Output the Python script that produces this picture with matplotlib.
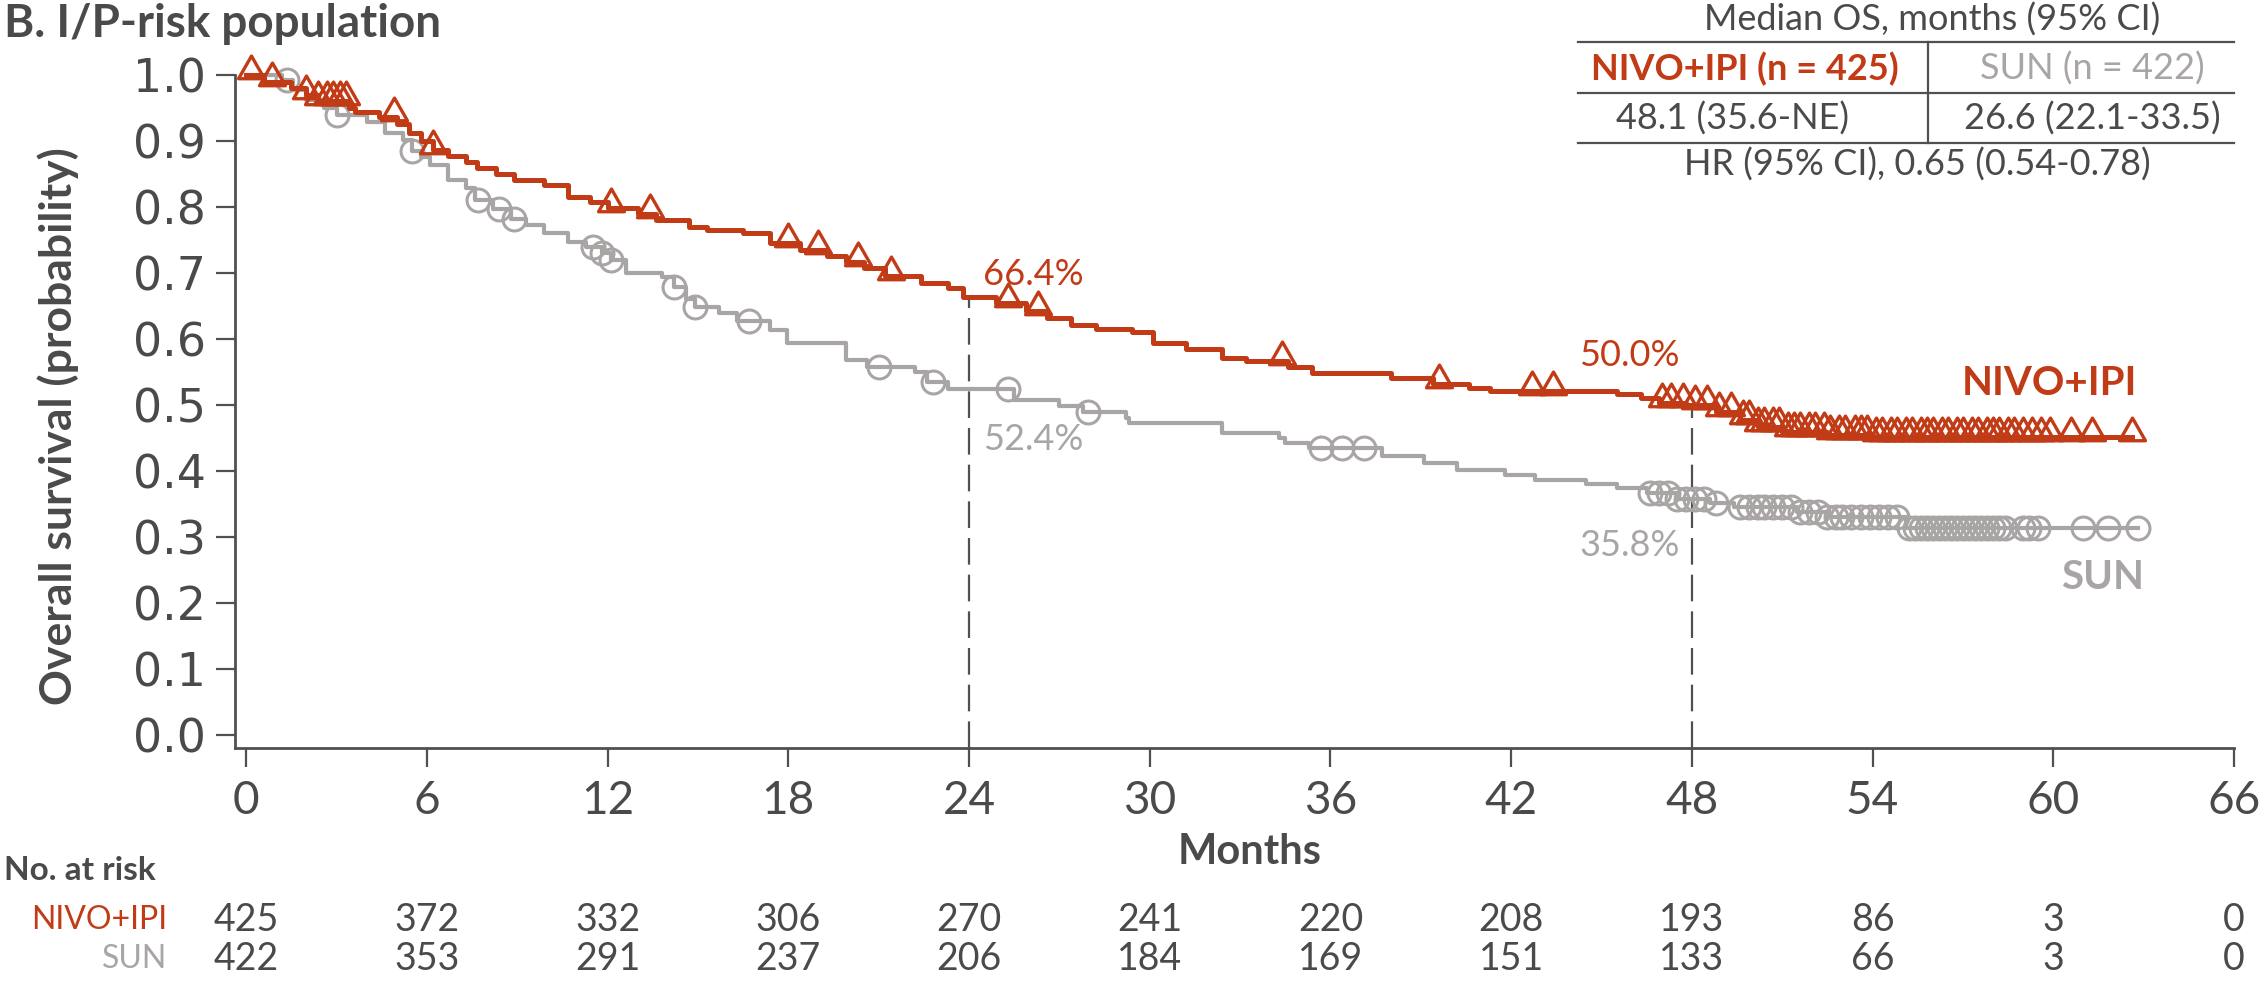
import numpy as np
import matplotlib
matplotlib.use("Agg")
import matplotlib.pyplot as plt
from matplotlib.path import Path
from matplotlib.transforms import blended_transform_factory

# ---------------- data ----------------
nivo_t = [0, 0.6, 1.5, 2.0, 2.4, 3.4, 3.6, 4.4, 5.0, 5.4, 5.8, 6.2, 6.7, 7.3, 7.65, 8.3, 8.9,
          9.9, 10.7, 11.4, 12.0, 13.0, 13.6, 14.7, 15.3, 16.5, 17.4, 18.4, 19.3, 19.9, 20.5,
          21.2, 22.4, 23.3, 23.8, 24.9, 25.9, 26.6, 27.4, 28.2, 29.4, 30.1, 31.2, 32.4, 33.2,
          34.6, 35.4, 38.0, 39.4, 40.6, 41.3, 45.5, 46.3, 46.9, 47.8, 48.8, 49.6, 50.2, 51.0,
          52.5, 54.0]
nivo_s = [1.0, 0.99, 0.98, 0.97, 0.96, 0.95, 0.944, 0.936, 0.925, 0.912, 0.900, 0.886, 0.877,
          0.868, 0.859, 0.850, 0.841, 0.833, 0.815, 0.808, 0.798, 0.790, 0.780, 0.770, 0.765,
          0.760, 0.745, 0.735, 0.725, 0.716, 0.707, 0.696, 0.685, 0.677, 0.664, 0.655, 0.643,
          0.632, 0.621, 0.615, 0.611, 0.594, 0.585, 0.571, 0.566, 0.558, 0.548, 0.541, 0.532,
          0.525, 0.521, 0.516, 0.510, 0.503, 0.500, 0.490, 0.478, 0.467, 0.459, 0.455, 0.452]
nivo_end = 62.6
nivo_cens = [0.15, 0.85, 2.0, 2.4, 2.7, 2.9, 3.1, 3.3, 4.9, 6.2, 12.1, 13.4, 18.0, 19.0, 20.3,
             21.4, 25.3, 26.3, 34.4, 39.6, 42.7, 43.4, 47.0, 47.3, 47.7, 48.1, 48.5, 48.9, 49.3,
             49.7, 49.9, 50.2, 50.4, 50.7, 50.9, 51.2, 51.4, 51.6, 51.9, 52.1, 52.4, 52.6, 52.9,
             53.1, 53.4, 53.6, 53.8, 54.1, 54.3, 54.6, 54.8, 55.1, 55.3, 55.6, 55.8, 56.0, 56.3,
             56.5, 56.8, 57.0, 57.3, 57.5, 57.8, 58.0, 58.2, 58.5, 58.7, 59.0, 59.3, 59.6, 59.9,
             60.6, 61.3, 62.6]

sun_t = [0, 1.2, 1.55, 2.0, 2.6, 3.0, 4.0, 4.6, 5.2, 5.5, 5.8, 6.1, 6.7, 7.3, 7.6, 8.2, 8.8,
         9.3, 9.9, 10.7, 11.3, 11.8, 12.1, 12.6, 13.8, 14.2, 14.6, 14.9, 15.7, 16.3, 17.4,
         17.97, 19.9, 20.6, 22.2, 22.6, 23.3, 25.5, 27.0, 27.8, 29.2, 29.3, 32.4, 34.3, 34.5,
         35.3, 37.7, 39.1, 40.2, 41.8, 42.8, 44.5, 45.5, 46.5, 47.5, 48.6, 49.4, 51.5, 52.5,
         55.1]
sun_s = [1.0, 0.992, 0.977, 0.962, 0.950, 0.939, 0.929, 0.912, 0.901, 0.885, 0.876, 0.864,
         0.841, 0.829, 0.810, 0.797, 0.782, 0.772, 0.760, 0.747, 0.739, 0.730, 0.720, 0.700,
         0.694, 0.679, 0.660, 0.648, 0.639, 0.628, 0.614, 0.594, 0.568, 0.558, 0.550, 0.535,
         0.524, 0.508, 0.498, 0.490, 0.481, 0.473, 0.458, 0.450, 0.443, 0.435, 0.422, 0.412,
         0.402, 0.394, 0.387, 0.381, 0.374, 0.366, 0.358, 0.352, 0.345, 0.338, 0.331, 0.313]
sun_end = 62.8
sun_cens = [1.35, 3.0, 5.5, 7.7, 8.4, 8.9, 11.5, 11.8, 12.1, 14.2, 14.9, 16.7, 21.0, 22.8,
            25.3, 27.95, 35.7, 36.4, 37.1, 46.6, 46.9, 47.2, 47.5, 47.8, 48.1, 48.4, 48.8,
            49.6, 49.9, 50.2, 50.4, 50.7, 51.0, 51.3, 51.6, 51.9, 52.2, 52.5, 52.8, 53.0, 53.3,
            53.6, 53.9, 54.2, 54.5, 54.8, 55.2, 55.4, 55.6, 55.8, 56.0, 56.2, 56.4, 56.6, 56.8,
            57.0, 57.2, 57.4, 57.6, 57.8, 58.0, 58.2, 58.4, 59.0, 59.2, 59.5, 61.0, 61.8, 62.8]

landmarks = [24, 48]
nivo_landmark = [0.664, 0.500]
sun_landmark = [0.524, 0.358]
nivo_landmark_lbl = ["66.4%", "50.0%"]
sun_landmark_lbl = ["52.4%", "35.8%"]

risk_months = [0, 6, 12, 18, 24, 30, 36, 42, 48, 54, 60, 66]
risk_nivo = [425, 372, 332, 306, 270, 241, 220, 208, 193, 86, 3, 0]
risk_sun = [422, 353, 291, 237, 206, 184, 169, 151, 133, 66, 3, 0]

xticks = [0, 6, 12, 18, 24, 30, 36, 42, 48, 54, 60, 66]
yticks = [0.0, 0.1, 0.2, 0.3, 0.4, 0.5, 0.6, 0.7, 0.8, 0.9, 1.0]

# ---------------- style ----------------
RED = "#C23B17"
GRAY = "#A9A5A5"
TXT = "#4A4A4A"
W, H = 2265, 986
SANS = ["Lato", "DejaVu Sans"]

plt.rcParams["font.family"] = SANS

fig = plt.figure(figsize=(W / 100, H / 100), dpi=100)
fig.patch.set_facecolor("white")


def fx(x):
    return x / W


def fy(y):
    return 1 - y / H


ax = fig.add_axes([fx(235), fy(748), fx(2234) - fx(235), fy(75) - fy(748)])
ax.set_xlim(-0.37, 66)
ax.set_ylim(-0.0197, 1.0)
for s in ["top", "right"]:
    ax.spines[s].set_visible(False)
for s in ["left", "bottom"]:
    ax.spines[s].set_color("#505050")
    ax.spines[s].set_linewidth(2.0)
ax.set_xticks(xticks)
ax.set_yticks(yticks)
ax.set_yticklabels([f"{v:.1f}" for v in yticks], family=["DejaVu Sans"], fontsize=33,
                   color=TXT)
ax.set_xticklabels([str(v) for v in xticks], fontsize=33, color=TXT)
ax.tick_params(axis="both", direction="out", length=14, width=1.6, color="#505050")
ax.tick_params(axis="y", pad=7)
ax.tick_params(axis="x", pad=9)


def step_at(t, times, vals):
    idx = np.searchsorted(times, t, side="right") - 1
    return np.asarray(vals)[idx]


# triangle marker with its base on the curve
tri = Path([(-1, -0.25), (1, -0.25), (0, 1.5), (-1, -0.25)],
           [Path.MOVETO, Path.LINETO, Path.LINETO, Path.CLOSEPOLY])

# dashed landmark lines
for m, v in zip(landmarks, nivo_landmark):
    ax.plot([m, m], [-0.0197, v], color="#505050", lw=1.6, dashes=(12, 4.5), zorder=1,
            clip_on=False)

# SUN curve
st = list(sun_t) + [sun_end]
ss = list(sun_s) + [sun_s[-1]]
ax.plot(st, ss, drawstyle="steps-post", color=GRAY, lw=3.0, zorder=2, clip_on=False)
ax.plot(sun_cens, step_at(sun_cens, sun_t, sun_s), ls="none", marker="o", ms=16.5,
        mfc="none", mec=GRAY, mew=2.2, zorder=3, clip_on=False)

# NIVO+IPI curve
nt = list(nivo_t) + [nivo_end]
ns = list(nivo_s) + [nivo_s[-1]]
ax.plot(nt, ns, drawstyle="steps-post", color=RED, lw=3.6, zorder=4, clip_on=False)
ax.plot(nivo_cens, step_at(nivo_cens, nivo_t, nivo_s), ls="none", marker=tri, ms=28,
        mfc="none", mec=RED, mew=2.4, zorder=5, clip_on=False)

# landmark labels
ax.text(24.45, 0.698, nivo_landmark_lbl[0], color=RED, fontsize=26, ha="left", va="center")
ax.text(24.45, 0.447, sun_landmark_lbl[0], color=GRAY, fontsize=26, ha="left", va="center")
ax.text(47.6, 0.575, nivo_landmark_lbl[1], color=RED, fontsize=26, ha="right", va="center")
ax.text(47.6, 0.287, sun_landmark_lbl[1], color=GRAY, fontsize=26, ha="right", va="center")

# curve labels
ax.text(62.8, 0.533, "NIVO+IPI", color=RED, fontsize=29, fontweight="bold", ha="right",
        va="center")
ax.text(63.0, 0.238, "SUN", color=GRAY, fontsize=29, fontweight="bold", ha="right",
        va="center")

# axis labels
fig.text(fx(58), fy(426), "Overall survival (probability)", fontsize=32, fontweight="bold",
         color=TXT, rotation=90, ha="center", va="center")
fig.text(fx(1250), fy(852), "Months", fontsize=30, fontweight="bold", color=TXT,
         ha="center", va="center")

# title
fig.text(fx(4), fy(24), "B. I/P-risk population", fontsize=33, fontweight="bold", color=TXT,
         ha="left", va="center")

# risk table
fig.text(fx(4), fy(871), "No. at risk", fontsize=24, fontweight="bold", color=TXT,
         ha="left", va="center")
fig.text(fx(167), fy(920), "NIVO+IPI", fontsize=23, color=RED, ha="right", va="center")
fig.text(fx(167), fy(959), "SUN", fontsize=23, color=GRAY, ha="right", va="center")
bt = blended_transform_factory(ax.transData, fig.transFigure)
for m, a, b in zip(risk_months, risk_nivo, risk_sun):
    ax.text(m, fy(920), str(a), transform=bt, fontsize=27, color=TXT,
            ha="center", va="center", clip_on=False)
    ax.text(m, fy(959), str(b), transform=bt, fontsize=27, color=TXT,
            ha="center", va="center", clip_on=False)

# median OS table (top right)
LC = "#505050"
for y in [42, 93, 143]:
    fig.add_artist(plt.Line2D([fx(1578), fx(2234)], [fy(y), fy(y)], color=LC, lw=1.6))
fig.add_artist(plt.Line2D([fx(1928), fx(1928)], [fy(42), fy(143)], color=LC, lw=1.6))
fig.text(fx(1932), fy(20), "Median OS, months (95% CI)", fontsize=26, color=TXT,
         ha="center", va="center")
fig.text(fx(1745), fy(69), "NIVO+IPI (n = 425)", fontsize=26, fontweight="bold", color=RED,
         ha="center", va="center")
fig.text(fx(2092), fy(69), "SUN (n = 422)", fontsize=26, color=GRAY, ha="center", va="center")
fig.text(fx(1732), fy(119), "48.1 (35.6-NE)", fontsize=26, color=TXT, ha="center", va="center")
fig.text(fx(2092), fy(119), "26.6 (22.1-33.5)", fontsize=26, color=TXT, ha="center",
         va="center")
fig.text(fx(1917), fy(165), "HR (95% CI), 0.65 (0.54-0.78)", fontsize=26, color=TXT,
         ha="center", va="center")

fig.savefig("out.png", dpi=100, facecolor="white")
